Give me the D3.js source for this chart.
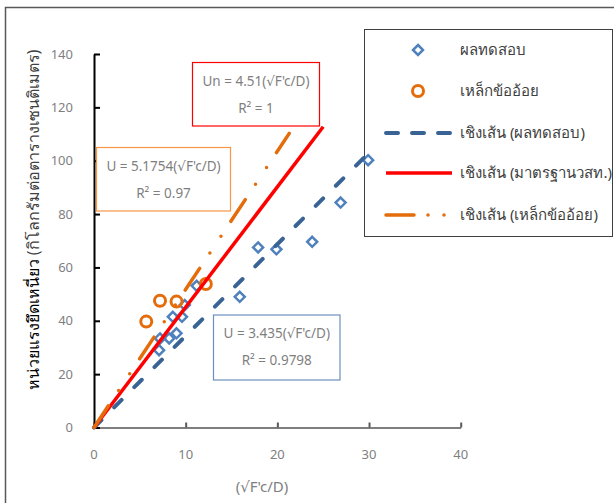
<!DOCTYPE html>
<html>
<head>
<meta charset="utf-8">
<script src="https://cdn.jsdelivr.net/npm/d3@7"></script>
<style>
  body { margin: 0; background: #fff; }
  svg { display: block; font-family: "Noto Sans", "DejaVu Sans", sans-serif; }
</style>
</head>
<body>
<svg id="chart" width="614" height="503"></svg>
<script>
// ค่าจากกราฟ
var xTicks = [0, 10, 20, 30, 40];
var yTicks = [0, 20, 40, 60, 80, 100, 120, 140];

// ผลทดสอบ
var testX = [7.1, 7.2, 8.2, 9.0, 8.6, 9.6, 9.9, 11.2, 15.9, 17.9, 19.9, 23.8, 26.9, 29.9];
var testY = [29.0, 33.4, 33.4, 35.3, 41.5, 41.5, 45.9, 53.1, 49.0, 67.5, 66.8, 69.6, 84.3, 100.2];

// เหล็กข้ออ้อย
var barX = [5.7, 7.2, 9.0, 12.2];
var barY = [39.7, 47.5, 47.2, 53.8];

// เส้นแนวโน้ม
var fitNames = ["test", "std", "bar"];
var fitSlopes = [3.435, 4.51, 5.1754];
var fitEnds = [30, 25, 21.3];

var legendLabels = ["ผลทดสอบ", "เหล็กข้ออ้อย", "เชิงเส้น (ผลทดสอบ)", "เชิงเส้น (มาตรฐานวสท.)", "เชิงเส้น (เหล็กข้ออ้อย)"];
var eqLines = [
  ["Un = 4.51(√F'c/D)", "R² = 1"],
  ["U = 5.1754(√F'c/D)", "R² = 0.97"],
  ["U = 3.435(√F'c/D)", "R² = 0.9798"]
];

var svg = d3.select("#chart");

var x = d3.scaleLinear().domain([0, 40]).range([94, 460.7]);
var y = d3.scaleLinear().domain([0, 140]).range([427.5, 54]);

var blue = "#4f81bd", blueDark = "#3a6395", red = "#ff0000", orange = "#e46c0a";
var grayText = "#7f7f7f";

var fitStyle = {
  test: { color: blueDark, width: 4, dash: "10.5,18", cap: "round" },
  std: { color: red, width: 3.5, dash: null, cap: "butt" },
  bar: { color: orange, width: 3.5, dash: "26,18.5,0,20,0,18", cap: "round" }
};

function diamond(g, cx, cy) {
  g.append("path")
    .attr("d", "M" + cx + "," + (cy - 5) + "L" + (cx + 5) + "," + cy + "L" + cx + "," + (cy + 5) + "L" + (cx - 5) + "," + cy + "Z")
    .attr("fill", "none")
    .attr("stroke", blue)
    .attr("stroke-width", 2.5);
}

// กรอบนอก
svg.append("rect")
  .attr("x", 5.5).attr("y", 7.5)
  .attr("width", 700).attr("height", 600)
  .attr("fill", "none")
  .attr("stroke", "#595959")
  .attr("stroke-width", 1.5);

// คำอธิบายสัญลักษณ์ (วาดก่อน ให้จุดข้อมูลทับขอบได้)
var lg = svg.append("g");
lg.append("rect")
  .attr("x", 364.5).attr("y", 29.5).attr("width", 248).attr("height", 207)
  .attr("fill", "#fff")
  .attr("stroke", "#404040")
  .attr("stroke-width", 1);
var rows = [50, 91, 133, 173, 215];
diamond(lg, 418, rows[0]);
lg.append("circle").attr("cx", 418).attr("cy", rows[1]).attr("r", 5.5)
  .attr("fill", "none").attr("stroke", orange).attr("stroke-width", 3);
[1, 2, 3].forEach(function (k) {
  var s = fitStyle[fitNames[k - 1]];
  lg.append("line")
    .attr("x1", 386).attr("x2", 452)
    .attr("y1", rows[k + 1]).attr("y2", rows[k + 1])
    .attr("stroke", s.color)
    .attr("stroke-width", s.width)
    .attr("stroke-linecap", s.cap)
    .attr("stroke-dasharray", k === 1 ? "12,14" : (k === 3 ? "28,14,0,16,0,40" : null));
});
legendLabels.forEach(function (t, i) {
  lg.append("text")
    .attr("x", 460).attr("y", rows[i] + 5)
    .attr("font-size", 15)
    .attr("fill", "#404040")
    .text(t);
});

// แกน X
var xAxis = svg.append("g").attr("transform", "translate(0," + y(0) + ")")
  .call(d3.axisBottom(x).tickValues(xTicks).tickSizeInner(-5).tickSizeOuter(0).tickPadding(0));
xAxis.select(".domain").attr("stroke", "#7f7f7f").attr("stroke-width", 2);
xAxis.selectAll(".tick line").attr("stroke", "#595959").attr("stroke-width", 2);
xAxis.selectAll(".tick text").remove();
svg.selectAll(".xlab").data(xTicks).enter().append("text")
  .attr("class", "xlab")
  .attr("x", function (d) { return x(d); })
  .attr("y", 459)
  .attr("text-anchor", "middle")
  .attr("font-size", 13)
  .attr("fill", grayText)
  .text(function (d) { return d; });

// แกน Y
var yAxis = svg.append("g").attr("transform", "translate(" + x(0) + ",0)")
  .call(d3.axisLeft(y).tickValues(yTicks).tickSizeInner(-6).tickSizeOuter(0));
yAxis.select(".domain").attr("stroke", "#000").attr("stroke-width", 2);
yAxis.selectAll(".tick line").attr("stroke", "#000").attr("stroke-width", 2);
yAxis.selectAll(".tick text").remove();
svg.selectAll(".ylab").data(yTicks).enter().append("text")
  .attr("class", "ylab")
  .attr("x", 73)
  .attr("y", function (d) { return y(d) + 4.5; })
  .attr("text-anchor", "end")
  .attr("font-size", 13)
  .attr("fill", grayText)
  .text(function (d) { return d; });

// ชื่อแกน
svg.append("text")
  .attr("x", 262).attr("y", 492)
  .attr("text-anchor", "middle")
  .attr("font-size", 15)
  .attr("fill", grayText)
  .text("(√F'c/D)");

var yt = svg.append("text")
  .attr("transform", "translate(39,220) rotate(-90)")
  .attr("text-anchor", "middle")
  .attr("font-size", 16);
yt.append("tspan").attr("fill", "#000").text("หน่วยแรงยึดเหนี่ยว  ");
yt.append("tspan").attr("fill", "#404040").text("(กิโลกรัมต่อตารางเซนติเมตร)");

// จุดข้อมูล
var pts = svg.append("g");
testX.forEach(function (d, i) { diamond(pts, x(d), y(testY[i])); });

svg.append("g").selectAll("circle").data(barX).enter().append("circle")
  .attr("cx", function (d) { return x(d); })
  .attr("cy", function (d, i) { return y(barY[i]); })
  .attr("r", 5.5)
  .attr("fill", "none")
  .attr("stroke", orange)
  .attr("stroke-width", 3);

// เส้นแนวโน้ม
var line = d3.line().x(function (d) { return x(d[0]); }).y(function (d) { return y(d[1]); });
fitNames.forEach(function (n, i) {
  var s = fitStyle[n];
  svg.append("path")
    .datum([[0, 0], [fitEnds[i], fitEnds[i] * fitSlopes[i]]])
    .attr("d", line)
    .attr("fill", "none")
    .attr("stroke", s.color)
    .attr("stroke-width", s.width)
    .attr("stroke-linecap", s.cap)
    .attr("stroke-dasharray", s.dash);
});

// กล่องสมการ
var eqBoxes = [
  { x: 192.5, y: 62.5, w: 127, h: 63.5, stroke: red },
  { x: 96.5, y: 147.5, w: 134, h: 63.5, stroke: "#f79646" },
  { x: 213.5, y: 315, w: 126.5, h: 65, stroke: "#6d8fbd" }
];
eqBoxes.forEach(function (b, i) {
  svg.append("rect")
    .attr("x", b.x).attr("y", b.y).attr("width", b.w).attr("height", b.h)
    .attr("fill", "#fff")
    .attr("stroke", b.stroke)
    .attr("stroke-width", 1.2);
  svg.append("text")
    .attr("x", b.x + b.w / 2).attr("y", b.y + 23)
    .attr("text-anchor", "middle")
    .attr("font-size", 13.5)
    .attr("fill", grayText)
    .text(eqLines[i][0]);
  svg.append("text")
    .attr("x", b.x + b.w / 2).attr("y", b.y + 50)
    .attr("text-anchor", "middle")
    .attr("font-size", 13.5)
    .attr("fill", grayText)
    .text(eqLines[i][1]);
});
</script>
</body>
</html>
